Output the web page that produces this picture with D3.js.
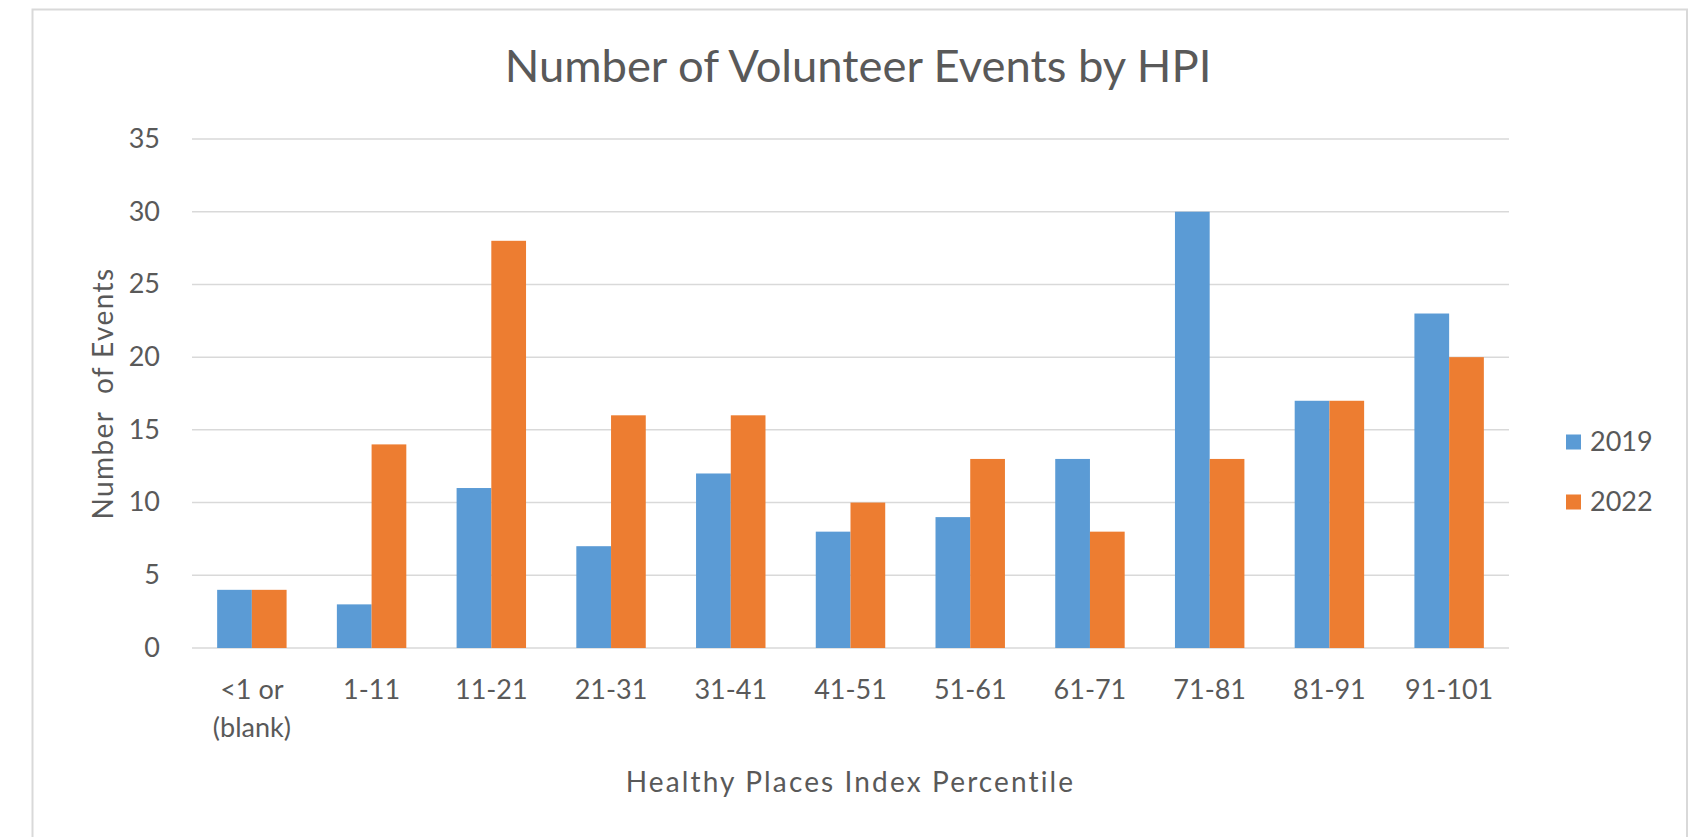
<!DOCTYPE html>
<html>
<head>
<meta charset="utf-8">
<script src="https://cdn.jsdelivr.net/npm/d3@7"></script>
<style>
  html, body { margin: 0; padding: 0; background: #ffffff; }
  svg { display: block; }
  text { font-family: Lato, "Open Sans", sans-serif; fill: #595959; }
</style>
</head>
<body>
<svg id="chart" width="1694" height="837"></svg>
<script>
const categories = ["<1 or\n(blank)", "1-11", "11-21", "21-31", "31-41", "41-51", "51-61", "61-71", "71-81", "81-91", "91-101"];
const seriesNames = ["2019", "2022"];
const values2019 = [4, 3, 11, 7, 12, 8, 9, 13, 30, 17, 23];
const values2022 = [4, 14, 28, 16, 16, 10, 13, 8, 13, 17, 20];
const yTicks = [0, 5, 10, 15, 20, 25, 30, 35];
const colors = ["#5B9BD5", "#ED7D31"];
const titleText = "Number of Volunteer Events by HPI";
const xTitleText = "Healthy Places Index Percentile";
const yTitleText = "Number\u00a0 of Events";

const svg = d3.select("#chart");
const plot = { left: 192, right: 1509, top: 139, bottom: 648 };

// outer frame
svg.append("rect")
  .attr("x", 32.5).attr("y", 9.5)
  .attr("width", 1687 - 32.5).attr("height", 900)
  .attr("fill", "#ffffff").attr("stroke", "#d9d9d9").attr("stroke-width", 2);

const x = d3.scaleBand().domain(categories).range([plot.left, plot.right])
  .paddingInner(0.42).paddingOuter(0.21);
const xs = d3.scaleBand().domain(seriesNames).range([0, x.bandwidth()]);
const y = d3.scaleLinear().domain([0, 35]).range([plot.bottom, plot.top]);
const color = d3.scaleOrdinal().domain(seriesNames).range(colors);

// gridlines
svg.append("g").selectAll("line").data(yTicks).join("line")
  .attr("x1", plot.left).attr("x2", plot.right)
  .attr("y1", d => y(d)).attr("y2", d => y(d))
  .attr("stroke", "#d9d9d9").attr("stroke-width", 1.5);

// y tick labels
svg.append("g").selectAll("text").data(yTicks).join("text")
  .attr("x", 160).attr("y", d => y(d)).attr("dy", "0.33em")
  .attr("text-anchor", "end").style("font-size", "27px")
  .text(d => d);

// bars
const rows = categories.map((c, i) => ({ cat: c, vals: [values2019[i], values2022[i]] }));
const groups = svg.append("g").selectAll("g").data(rows).join("g")
  .attr("transform", d => `translate(${x(d.cat)},0)`);
groups.selectAll("rect").data(d => d.vals.map((v, j) => ({ s: seriesNames[j], v })))
  .join("rect")
  .attr("x", d => xs(d.s)).attr("width", xs.bandwidth())
  .attr("y", d => y(d.v)).attr("height", d => y(0) - y(d.v))
  .attr("fill", d => color(d.s));

// x tick labels
const xl = svg.append("g").selectAll("text").data(categories).join("text")
  .attr("x", d => x(d) + x.bandwidth() / 2).attr("y", 699)
  .attr("text-anchor", "middle").style("font-size", "27px");
xl.each(function(d) {
  const lines = d.split("\n");
  d3.select(this).selectAll("tspan").data(lines).join("tspan")
    .attr("x", x(d) + x.bandwidth() / 2)
    .attr("dy", (l, i) => i === 0 ? 0 : 38)
    .text(l => l);
});

function fit(sel, target) {
  const base = 30;
  sel.style("font-size", base + "px");
  const w = sel.node().getComputedTextLength();
  sel.style("font-size", (base * target / w) + "px");
}
function spaceFit(sel, size, target) {
  sel.style("font-size", size + "px").style("letter-spacing", "0px");
  const w = sel.node().getComputedTextLength();
  const n = sel.text().length;
  sel.style("letter-spacing", ((target - w) / n) + "px");
}

// title
const t = svg.append("text").attr("x", 858).attr("y", 82)
  .attr("text-anchor", "middle").style("font-weight", 400).text(titleText);
fit(t, 707);

// x axis title
const xt = svg.append("text").attr("x", (plot.left + plot.right) / 2).attr("y", 792)
  .attr("text-anchor", "middle").text(xTitleText);
spaceFit(xt, 28, 450);

// y axis title
const yt = svg.append("text")
  .attr("transform", `translate(113,${(plot.top + plot.bottom) / 2}) rotate(-90)`)
  .attr("text-anchor", "middle").text(yTitleText);
spaceFit(yt, 28, 252);

// legend
const lg = svg.append("g").selectAll("g").data(seriesNames).join("g")
  .attr("transform", (d, i) => `translate(1566,${442 + i * 60})`);
lg.append("rect").attr("x", 0).attr("y", -7.5).attr("width", 15).attr("height", 15)
  .attr("fill", d => color(d));
lg.append("text").attr("x", 24).attr("y", 0).attr("dy", "0.35em")
  .style("font-size", "27px").text(d => d);
</script>
</body>
</html>
